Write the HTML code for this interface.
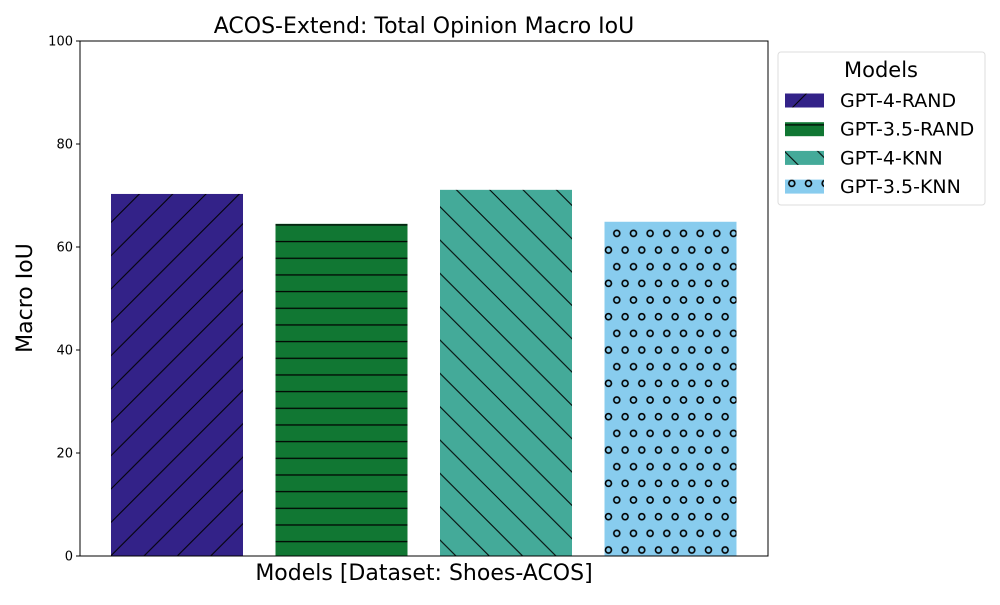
<!DOCTYPE html>
<html><head><meta charset="utf-8"><style>body{margin:0;background:#fff}svg{font-family:"DejaVu Sans","Liberation Sans",sans-serif}</style></head>
<body>
<svg id="chart" width="1000" height="600" xmlns="http://www.w3.org/2000/svg">
<defs>
<pattern id="p0" patternUnits="userSpaceOnUse" width="33.33" height="33.33" y="600"><rect width="33.33" height="33.33" fill="#332288"/><path d="M-5,38.33 L38.33,-5 M-38.33,38.33 L5,-5 M28.33,38.33 L71.66,-5" stroke="#000" stroke-width="1"/></pattern>
<pattern id="p1" patternUnits="userSpaceOnUse" width="16.67" height="16.67" y="600"><rect width="16.67" height="16.67" fill="#117733"/><path d="M0,8.33 H16.67" stroke="#000" stroke-width="1.2"/></pattern>
<pattern id="p2" patternUnits="userSpaceOnUse" width="33.33" height="33.33" y="600"><rect width="33.33" height="33.33" fill="#44AA99"/><path d="M-5,-5 L38.33,38.33 M-38.33,-5 L5,38.33 M28.33,-5 L71.66,38.33" stroke="#000" stroke-width="1"/></pattern>
<pattern id="p3" patternUnits="userSpaceOnUse" width="16.67" height="33.33" y="600"><rect width="16.67" height="33.33" fill="#88CCEE"/><g fill="none" stroke="#000" stroke-width="1.6"><circle cx="0" cy="0" r="3"/><circle cx="16.67" cy="0" r="3"/><circle cx="0" cy="33.33" r="3"/><circle cx="16.67" cy="33.33" r="3"/><circle cx="8.33" cy="16.67" r="3"/></g></pattern>
</defs>
<text x="424" y="33" font-size="22" text-anchor="middle">ACOS-Extend: Total Opinion Macro IoU</text>
<g id="bars"></g>
<g id="yaxis"></g>
<rect x="80" y="41" width="688" height="515" fill="none" stroke="#000" stroke-width="1"/>
<text x="424" y="580" font-size="22" text-anchor="middle">Models [Dataset: Shoes-ACOS]</text>
<text transform="translate(32,298) rotate(-90)" font-size="22" text-anchor="middle">Macro IoU</text>
<g>
<rect x="778" y="52" width="207" height="153" rx="3" fill="#fff" stroke="#ddd"/>
<text x="881" y="77" font-size="21" text-anchor="middle">Models</text>
<g id="legend-items"></g>
</g>
</svg>
<script>
const categories = ["GPT-4-RAND","GPT-3.5-RAND","GPT-4-KNN","GPT-3.5-KNN"];
const values = [70.3, 64.5, 71.1, 64.9];
const yTicks = [0,20,40,60,80,100];
const fills = ["url(#p0)","url(#p1)","url(#p2)","url(#p3)"];
const NS="http://www.w3.org/2000/svg";
const top0=41,bot=556,left=80,right=768;
function y(v){return bot-(v/100)*(bot-top0);}
function xc(i){return 177+i*164.5;}
const bw=132;
const bars=document.getElementById('bars');
categories.forEach((c,i)=>{
  const r=document.createElementNS(NS,'rect');
  
  
  r.setAttribute('x',xc(i)-bw/2);r.setAttribute('y',y(values[i]));
  r.setAttribute('width',bw);r.setAttribute('height',bot-y(values[i]));
  r.setAttribute('fill',fills[i]);
  bars.appendChild(r);
});
const ya=document.getElementById('yaxis');
yTicks.forEach(t=>{
  const l=document.createElementNS(NS,'line');
  
  
  l.setAttribute('x1',left-4);l.setAttribute('x2',left);l.setAttribute('y1',y(t));l.setAttribute('y2',y(t));l.setAttribute('stroke','#000');
  ya.appendChild(l);
  const tx=document.createElementNS(NS,'text');
  
  
  tx.setAttribute('x',left-7);tx.setAttribute('y',y(t)+4.5);tx.setAttribute('font-size','13');tx.setAttribute('text-anchor','end');
  tx.textContent=t;ya.appendChild(tx);
});
const lg=document.getElementById('legend-items');
categories.forEach((c,i)=>{
  const yy=100+i*28.7;
  const r=document.createElementNS(NS,'rect');
  
  
  r.setAttribute('x',785);r.setAttribute('y',yy-6.5);r.setAttribute('width',39);r.setAttribute('height',14);r.setAttribute('fill',fills[i]);
  lg.appendChild(r);
  const t=document.createElementNS(NS,'text');
  
  
  t.setAttribute('x',840);t.setAttribute('y',yy+7);t.setAttribute('font-size','19');
  t.textContent=c;lg.appendChild(t);
});
</script>
</body></html>
